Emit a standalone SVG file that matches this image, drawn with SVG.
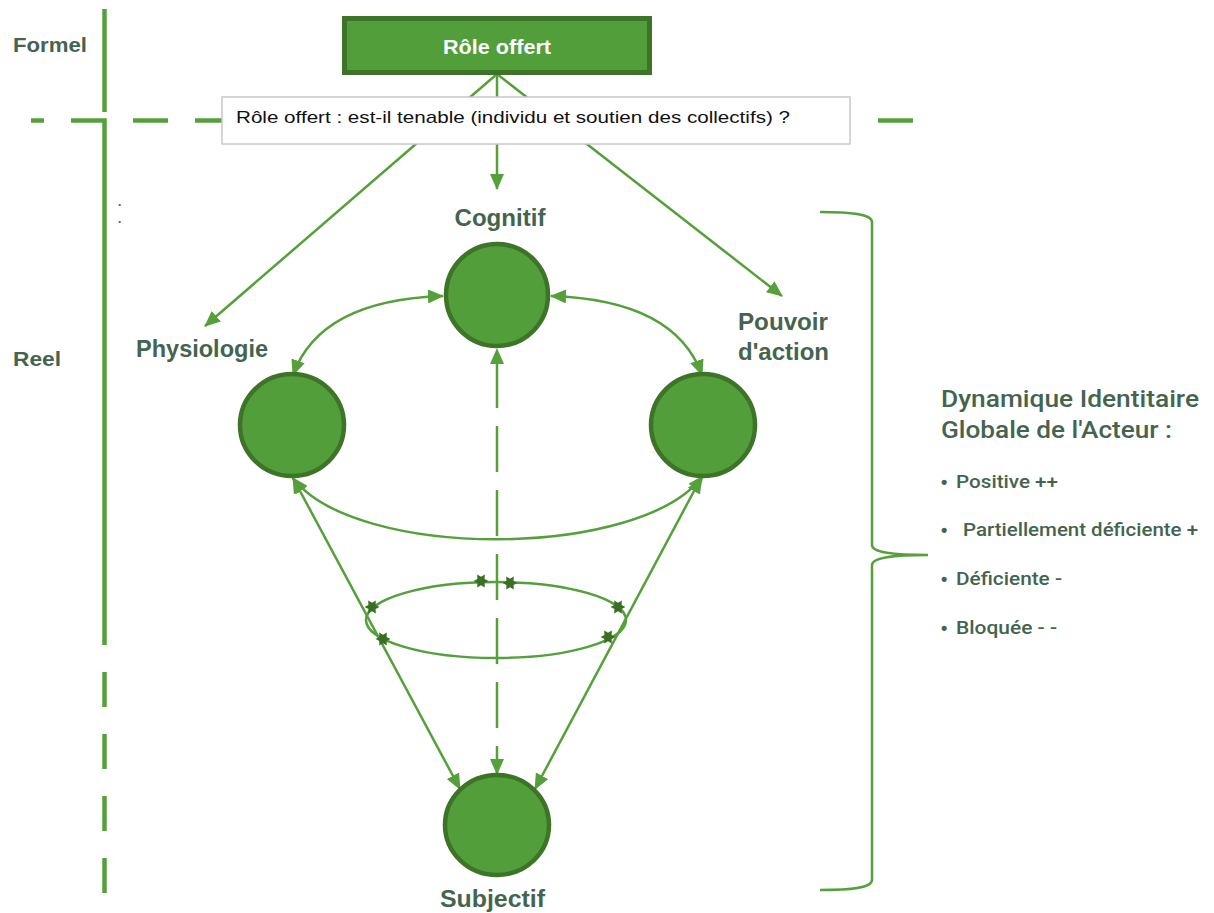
<svg xmlns="http://www.w3.org/2000/svg" width="1214" height="913" viewBox="0 0 1214 913">
<style>
.lbl{font-family:"Liberation Sans",Arial,sans-serif;font-weight:bold;fill:#44644f}
.med{font-family:Roboto,"Liberation Sans",Arial,sans-serif;font-weight:500;fill:#44644f}
.bul{font-family:"Liberation Sans",Arial,sans-serif;font-weight:bold;fill:#44644f}
.ln{fill:none;stroke:#55a03b;stroke-width:2.5}
.sep{fill:none;stroke:#55a03b;stroke-width:4.5}
.node{fill:#529e3a;stroke:#3d7428;stroke-width:4.5}
.star{fill:#3b6e25}
</style>
<defs>
<marker id="arr" markerUnits="userSpaceOnUse" markerWidth="16" markerHeight="14" viewBox="0 0 16 14" refX="15" refY="7" orient="auto-start-reverse">
<path d="M0,0 L16,7 L0,14 z" fill="#55a03b"/>
</marker>
<path id="st" d="M7.5,0 L3.6,2.1 L3.8,6.5 L0,4.2 L-3.8,6.5 L-3.6,2.1 L-7.5,0 L-3.6,-2.1 L-3.8,-6.5 L0,-4.2 L3.8,-6.5 L3.6,-2.1 Z"/>
</defs>
<rect width="1214" height="913" fill="#ffffff"/>

<g id="separators">
<line class="sep" x1="104.5" y1="9" x2="104.5" y2="112"/>
<path class="sep" d="M71,120.5 H104.5 V645" stroke-linejoin="miter"/>
<line class="sep" x1="104.5" y1="672" x2="104.5" y2="707"/>
<line class="sep" x1="104.5" y1="734" x2="104.5" y2="769"/>
<line class="sep" x1="104.5" y1="796" x2="104.5" y2="831"/>
<line class="sep" x1="104.5" y1="858" x2="104.5" y2="893"/>
<line class="sep" x1="31" y1="120.5" x2="44" y2="120.5"/>
<line class="sep" x1="133" y1="120.5" x2="168" y2="120.5"/>
<line class="sep" x1="195" y1="120.5" x2="230" y2="120.5"/>
<line class="sep" x1="878" y1="120.5" x2="913" y2="120.5"/>
</g>

<g id="zone-labels">
<text class="lbl" x="13" y="52" font-size="21" textLength="74" lengthAdjust="spacingAndGlyphs">Formel</text>
<text class="lbl" x="13" y="366" font-size="21" textLength="48" lengthAdjust="spacingAndGlyphs">Reel</text>
<text x="118" y="206" font-family="Liberation Sans, sans-serif" font-weight="bold" font-size="12" fill="#44644f">.</text>
<text x="118" y="223" font-family="Liberation Sans, sans-serif" font-weight="bold" font-size="12" fill="#44644f">.</text>
</g>

<g id="connectors">
<line class="ln" x1="497" y1="74" x2="205" y2="326" marker-end="url(#arr)"/>
<line class="ln" x1="497" y1="74" x2="497" y2="189" marker-end="url(#arr)"/>
<line class="ln" x1="497" y1="74" x2="782" y2="296" marker-end="url(#arr)"/>
<path class="ln" d="M443,296 Q320,300 293,375" marker-start="url(#arr)" marker-end="url(#arr)"/>
<path class="ln" d="M551,296 Q675,300 702,375" marker-start="url(#arr)" marker-end="url(#arr)"/>
<path class="ln" d="M293,478 C355,560 640,560 703,476" marker-start="url(#arr)" marker-end="url(#arr)"/>
<line class="ln" x1="293" y1="478" x2="460" y2="789" marker-start="url(#arr)" marker-end="url(#arr)"/>
<line class="ln" x1="701" y1="478" x2="535" y2="789" marker-start="url(#arr)" marker-end="url(#arr)"/>
<line class="ln" x1="497" y1="349" x2="497" y2="774" stroke-dasharray="46 18" stroke-dashoffset="51" marker-start="url(#arr)" marker-end="url(#arr)"/>
<ellipse class="ln" cx="496" cy="620" rx="130" ry="38"/>
<use href="#st" class="star" x="481" y="581"/>
<use href="#st" class="star" x="510" y="583"/>
<use href="#st" class="star" x="372" y="607"/>
<use href="#st" class="star" x="383" y="639"/>
<use href="#st" class="star" x="618" y="607"/>
<use href="#st" class="star" x="608" y="637"/>
<path class="ln" d="M820,212 C850,212 872,214 872,222 V545 C872,552 890,555 928,555 C890,555 872,558 872,565 V880 C872,888 850,890 820,890"/>
</g>

<g id="role-offert">
<rect x="344.5" y="18.5" width="305" height="54" fill="#529e3a" stroke="#3d7428" stroke-width="5"/>
<text x="497" y="54" text-anchor="middle" font-family="Liberation Sans, Arial, sans-serif" font-weight="bold" font-size="21" fill="#ffffff" textLength="108" lengthAdjust="spacingAndGlyphs">Rôle offert</text>
</g>

<g id="question">
<rect x="222" y="97" width="628" height="47" fill="#ffffff" stroke="#c8c8c8" stroke-width="1.5"/>
<text x="236" y="123" font-family="Liberation Sans, Arial, sans-serif" font-size="17" fill="#111111" textLength="554" lengthAdjust="spacingAndGlyphs">Rôle offert : est-il tenable (individu et soutien des collectifs) ?</text>
</g>

<g id="cognitif">
<ellipse class="node" cx="497" cy="295" rx="51" ry="51"/>
<text class="lbl" x="500" y="226" font-size="24" text-anchor="middle" textLength="91" lengthAdjust="spacingAndGlyphs">Cognitif</text>
</g>

<g id="physiologie">
<ellipse class="node" cx="292" cy="425" rx="52" ry="51"/>
<text class="lbl" x="136" y="357" font-size="23" textLength="132" lengthAdjust="spacingAndGlyphs">Physiologie</text>
</g>

<g id="pouvoir">
<ellipse class="node" cx="703" cy="425" rx="52" ry="51"/>
<text class="lbl" x="738" y="330" font-size="23" textLength="90" lengthAdjust="spacingAndGlyphs">Pouvoir</text>
<text class="lbl" x="738" y="360" font-size="23" textLength="91" lengthAdjust="spacingAndGlyphs">d'action</text>
</g>

<g id="subjectif">
<ellipse class="node" cx="497" cy="825" rx="52" ry="50"/>
<text class="lbl" x="440" y="907" font-size="23" textLength="105" lengthAdjust="spacingAndGlyphs">Subjectif</text>
</g>

<g id="dynamique">
<text class="med" x="941" y="407" font-size="23" textLength="258" lengthAdjust="spacingAndGlyphs">Dynamique Identitaire</text>
<text class="med" x="941" y="438" font-size="23" textLength="231" lengthAdjust="spacingAndGlyphs">Globale de l'Acteur :</text>
<text class="bul" x="941" y="488" font-size="18">•</text>
<text class="med" x="956" y="488" font-size="18" textLength="102" lengthAdjust="spacingAndGlyphs">Positive ++</text>
<text class="bul" x="941" y="536" font-size="18">•</text>
<text class="med" x="963" y="536" font-size="18" textLength="235" lengthAdjust="spacingAndGlyphs">Partiellement déficiente +</text>
<text class="bul" x="941" y="585" font-size="18">•</text>
<text class="med" x="956" y="585" font-size="18" textLength="106" lengthAdjust="spacingAndGlyphs">Déficiente -</text>
<text class="bul" x="941" y="634" font-size="18">•</text>
<text class="med" x="956" y="634" font-size="18" textLength="101" lengthAdjust="spacingAndGlyphs">Bloquée - -</text>
</g>
</svg>
